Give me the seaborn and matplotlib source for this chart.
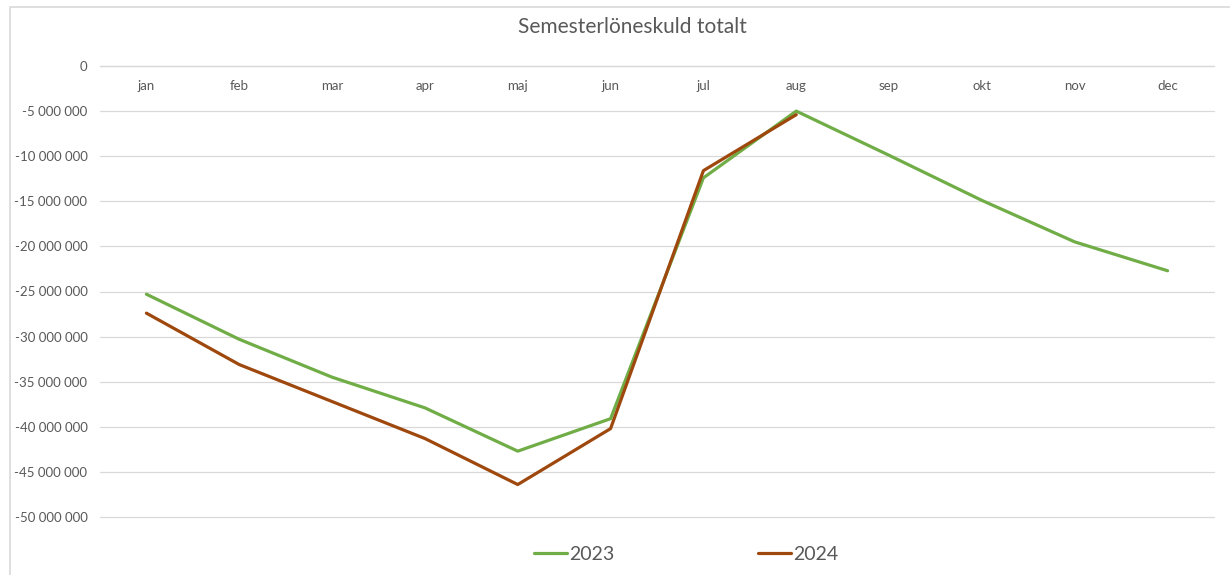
import pandas as pd
import matplotlib.pyplot as plt
import seaborn as sns
from matplotlib.patches import Rectangle
from matplotlib.ticker import FuncFormatter

# Values (kr)
months = ['jan', 'feb', 'mar', 'apr', 'maj', 'jun', 'jul', 'aug', 'sep', 'okt', 'nov', 'dec']
skuld_2023 = [-25300000, -30300000, -34500000, -37900000, -42700000, -39100000,
              -12400000, -5000000, -9900000, -14900000, -19500000, -22700000]
skuld_2024 = [-27400000, -33100000, -37200000, -41300000, -46400000, -40200000,
              -11600000, -5400000]

df = pd.concat([
    pd.DataFrame({'månad': months, 'skuld': skuld_2023, 'år': '2023'}),
    pd.DataFrame({'månad': months[:len(skuld_2024)], 'skuld': skuld_2024, 'år': '2024'}),
])
df['pos'] = df['månad'].map({m: i for i, m in enumerate(months)})

sns.set_theme(style='white')
plt.rcParams['font.family'] = ['Lato', 'DejaVu Sans']
text_grey = '#595959'
grid_grey = '#D9D9D9'

fig = plt.figure(figsize=(12.3, 5.75), dpi=100)
ax = fig.add_axes([100 / 1230, 1 - 517 / 575, 1114 / 1230, 451 / 575])

sns.lineplot(data=df, x='pos', y='skuld', hue='år',
             palette={'2023': '#70AD47', '2024': '#9E480E'},
             linewidth=2.3, ax=ax, sort=False)

ax.set_xlim(-0.5, 11.5)
ax.set_ylim(-50000000, 0)
ax.set_yticks(range(-50000000, 1, 5000000))
ax.yaxis.set_major_formatter(FuncFormatter(lambda v, _: f'{v:,.0f}'.replace(',', ' ')))
ax.set_xticks(range(len(months)))
ax.set_xticklabels(months)
ax.set_xlabel('')
ax.set_ylabel('')

ax.grid(axis='y', color=grid_grey, linewidth=0.9)
for gl in ax.get_ygridlines():
    gl.set_clip_on(False)
ax.set_axisbelow(True)
for side in ['left', 'right', 'top']:
    ax.spines[side].set_visible(False)
ax.spines['bottom'].set_position(('data', 0))
ax.spines['bottom'].set_color(grid_grey)
ax.spines['bottom'].set_linewidth(0.9)
ax.tick_params(axis='x', length=0, pad=10, labelsize=9.5, labelcolor=text_grey)
ax.tick_params(axis='y', length=0, pad=9, labelsize=9.5, labelcolor=text_grey)

fig.text(632 / 1230, 1 - 27 / 575, 'Semesterlöneskuld totalt', ha='center', va='center',
         fontsize=15, color=text_grey)

handles, labels = ax.get_legend_handles_labels()
ax.legend(handles, labels, loc='center', bbox_to_anchor=(686 / 1230, 1 - 554 / 575),
          bbox_transform=fig.transFigure, ncol=2, frameon=False, fontsize=14,
          labelcolor=text_grey, handlelength=1.7, handletextpad=0.1, columnspacing=7.4)

# chart area border, cut off at the right and bottom
fig.patches.append(Rectangle((10 / 1230, -0.1), 1.1, 1 - 7 / 575 + 0.1, transform=fig.transFigure,
                             fill=False, edgecolor=grid_grey, linewidth=1.2))

fig.savefig('out.png', dpi=100)
